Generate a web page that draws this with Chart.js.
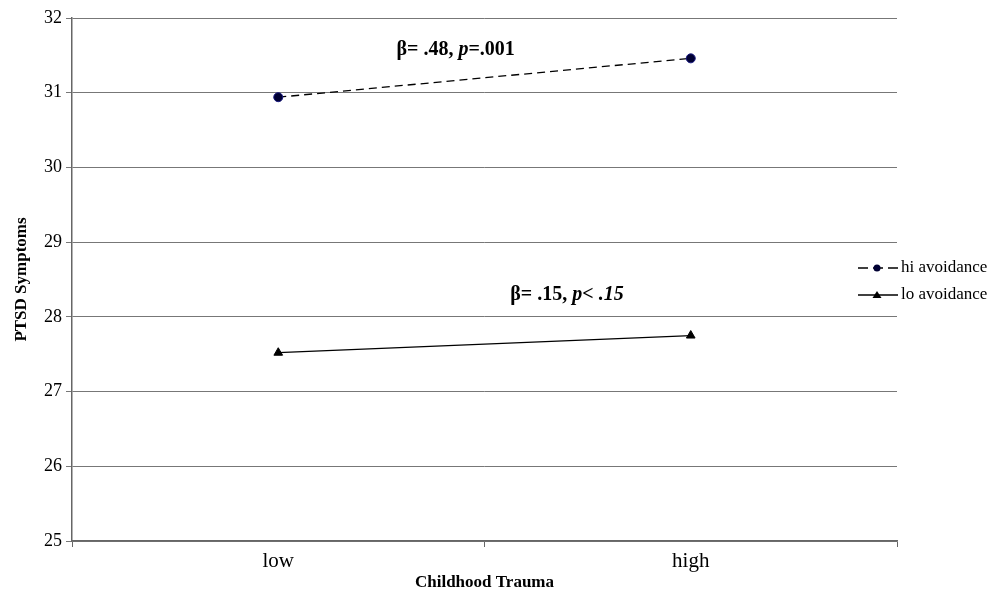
<!DOCTYPE html>
<html>
<head>
<meta charset="utf-8">
<script src="https://cdn.jsdelivr.net/npm/chart.js@4.4.0/dist/chart.umd.min.js"></script>
<style>
    body { margin: 0; background: #fff; }
    #wrap { width: 1005px; height: 592px; }
</style>
</head>
<body>
<div id="wrap"><canvas id="trauma-chart"></canvas></div>
<script>
// categories and series
const traumaLevels = ['low', 'high'];
const hiAvoidance = [30.94, 31.46];
const loAvoidance = [27.52, 27.75];
const seriesNames = ['hi avoidance', 'lo avoidance'];

// slope notes: [category position, y value, text parts]
const notes = [
    { x: 0.43, y: 31.58, parts: [['β= .48, ', 'bold'], ['p', 'bold italic'], ['=.001', 'bold']] },
    { x: 0.70, y: 28.29, parts: [['β= .15, ', 'bold'], ['p< .15', 'bold italic']] }
];

const serif = '"Liberation Serif", "Times New Roman", serif';

// writes the beta / p notes over the lines
const notePlugin = {
    id: 'notes',
    afterDatasetsDraw(chart) {
        const ctx = chart.ctx;
        const xs = chart.scales.x, ys = chart.scales.y;
        ctx.save();
        ctx.fillStyle = '#000';
        ctx.textBaseline = 'middle';
        notes.forEach(n => {
            let total = 0;
            n.parts.forEach(p => {
                ctx.font = p[1] + ' 20px ' + serif;
                total += ctx.measureText(p[0]).width;
            });
            let cx = xs.getPixelForValue(n.x) - total / 2;
            const cy = ys.getPixelForValue(n.y);
            n.parts.forEach(p => {
                ctx.font = p[1] + ' 20px ' + serif;
                ctx.fillText(p[0], cx, cy);
                cx += ctx.measureText(p[0]).width;
            });
        });
        ctx.restore();
    }
};

// legend on the right, drawn by hand to get the dashed marker
const legendPlugin = {
    id: 'sideLegend',
    afterDraw(chart) {
        const ctx = chart.ctx;
        const left = chart.chartArea.right - 39;
        const midY = (chart.chartArea.top + chart.chartArea.bottom) / 2 + 2;
        ctx.save();
        seriesNames.forEach((name, i) => {
            const y = midY - 13.5 + i * 27;
            ctx.strokeStyle = '#000';
            ctx.lineWidth = 1.3;
            ctx.setLineDash(i === 0 ? [10, 5] : []);
            ctx.beginPath();
            ctx.moveTo(left, y);
            ctx.lineTo(left + 40, y);
            ctx.stroke();
            ctx.setLineDash([]);
            ctx.fillStyle = i === 0 ? '#000033' : '#000';
            ctx.beginPath();
            if (i === 0) {
                ctx.arc(left + 19, y, 3.5, 0, Math.PI * 2);
            } else {
                ctx.moveTo(left + 19, y - 4);
                ctx.lineTo(left + 23.5, y + 3);
                ctx.lineTo(left + 14.5, y + 3);
                ctx.closePath();
            }
            ctx.fill();
            ctx.font = '17px ' + serif;
            ctx.textBaseline = 'middle';
            ctx.fillStyle = '#000';
            ctx.fillText(name, left + 43, y);
        });
        ctx.restore();
    }
};

const chartEl = document.getElementById('trauma-chart').getContext('2d');
const traumaChart = new Chart(chartEl, {
    type: 'line',
    data: {
        labels: traumaLevels,
        datasets: [{
            label: seriesNames[0],
            data: hiAvoidance,
            borderColor: '#000',
            borderWidth: 1.3,
            borderDash: [8, 5],
            pointStyle: 'circle',
            pointRadius: 4.5,
            pointBackgroundColor: '#000033',
            pointBorderColor: '#1a1a80',
            pointBorderWidth: 1
        }, {
            label: seriesNames[1],
            data: loAvoidance,
            borderColor: '#000',
            borderWidth: 1.3,
            pointStyle: 'triangle',
            pointRadius: 5,
            pointBackgroundColor: '#000',
            pointBorderColor: '#000',
            pointBorderWidth: 1
        }]
    },
    options: {
        responsive: true,
        maintainAspectRatio: false,
        animation: false,
        layout: { padding: { top: 18, right: 108, left: 11, bottom: 0 } },
        plugins: {
            legend: { display: false },
            tooltip: { enabled: false }
        },
        scales: {
            x: {
                offset: true,
                grid: {
                    offset: true,
                    drawOnChartArea: false,
                    drawTicks: true,
                    tickLength: 6,
                    color: '#666'
                },
                border: { color: '#666', width: 1.5 },
                ticks: { color: '#000', font: { family: serif, size: 21 }, padding: 2 },
                title: {
                    display: true,
                    text: 'Childhood Trauma',
                    color: '#000',
                    font: { family: serif, size: 17, weight: 'bold', lineHeight: 1 },
                    padding: { top: 0, bottom: 1 }
                },
                afterFit(scale) { scale.height = 51; }
            },
            y: {
                min: 25,
                max: 32,
                ticks: { stepSize: 1, color: '#000', font: { family: serif, size: 18 }, padding: 4 },
                grid: { color: '#777', lineWidth: 1, tickLength: 6 },
                border: { color: '#666', width: 1.5 },
                title: {
                    display: true,
                    text: 'PTSD Symptoms',
                    color: '#000',
                    font: { family: serif, size: 17, weight: 'bold' },
                    padding: { top: 0, bottom: 4 }
                },
                afterFit(scale) { scale.width = 61; }
            }
        }
    },
    plugins: [notePlugin, legendPlugin]
});
</script>
</body>
</html>
